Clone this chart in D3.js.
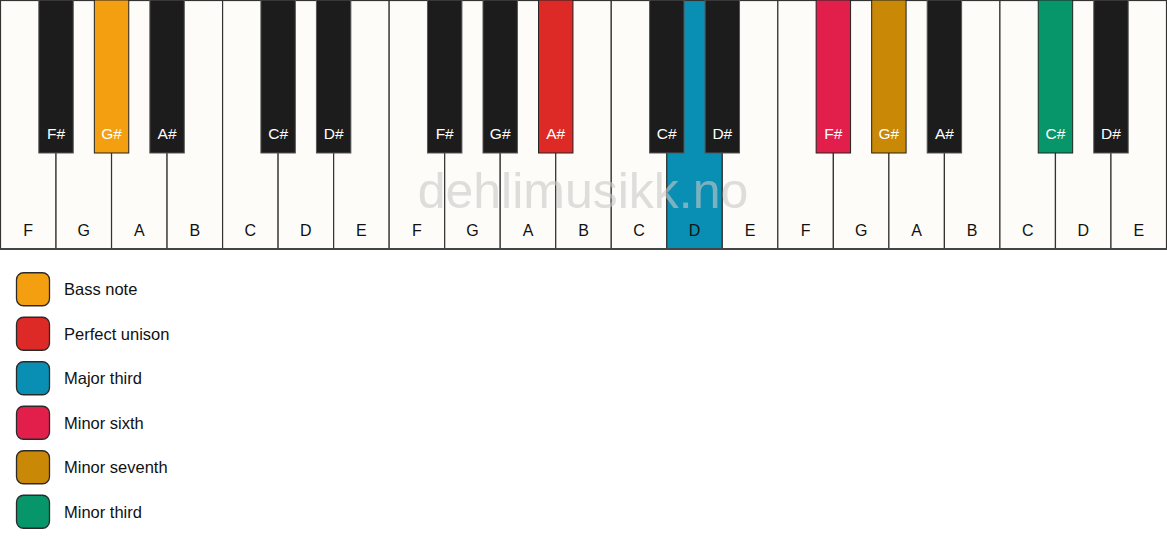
<!DOCTYPE html>
<html>
<head>
<meta charset="utf-8">
<script src="https://cdn.jsdelivr.net/npm/d3@7"></script>
<style>
  body { margin: 0; background: #fff; }
  text { font-family: "Liberation Sans", Arial, sans-serif; }
</style>
</head>
<body>
<div id="chart"></div>
<script>
// white keys, left to right
const whiteNotes = ["F","G","A","B","C","D","E","F","G","A","B","C","D","E","F","G","A","B","C","D","E"];
// highlighted keys: index into the white keys (black keys sit right of that white key)
const highlightKeys = [
  { type: "black", after: 1, label: "Bass note" },
  { type: "black", after: 9, label: "Perfect unison" },
  { type: "white", at: 12, label: "Major third" },
  { type: "black", after: 14, label: "Minor sixth" },
  { type: "black", after: 15, label: "Minor seventh" },
  { type: "black", after: 18, label: "Minor third" }
];
const legendLabels = ["Bass note","Perfect unison","Major third","Minor sixth","Minor seventh","Minor third"];
const legendColors = ["#f49f0f","#dd2a26","#0a8fb4","#e21f4b","#c98805","#07956a"];

const width = 1167, height = 550;
const keyH = 249, blackH = 153;

const svg = d3.select("#chart").append("svg")
  .attr("width", width)
  .attr("height", height);

const x = d3.scaleBand()
  .domain(d3.range(whiteNotes.length))
  .range([0.5, 1166.5])
  .padding(0);

const bw = x.bandwidth();
const blackW = bw * 0.62;

const colorFor = {};
highlightKeys.forEach((h, i) => {
  colorFor[h.type + (h.type === "white" ? h.at : h.after)] = legendColors[i];
});

// white keys
const wk = svg.append("g");
wk.selectAll("rect")
  .data(whiteNotes)
  .join("rect")
  .attr("x", (d, i) => x(i))
  .attr("y", 0.5)
  .attr("width", bw)
  .attr("height", keyH - 0.5)
  .attr("fill", (d, i) => colorFor["white" + i] || "#fdfcf9")
  .attr("stroke", "#333")
  .attr("stroke-width", 1.2);

wk.selectAll("text")
  .data(whiteNotes)
  .join("text")
  .attr("x", (d, i) => x(i) + bw / 2)
  .attr("y", 236)
  .attr("text-anchor", "middle")
  .attr("font-size", 16)
  .attr("fill", "#111")
  .text(d => d);

// bottom edge
svg.append("line")
  .attr("x1", 0).attr("x2", width)
  .attr("y1", keyH).attr("y2", keyH)
  .attr("stroke", "#444")
  .attr("stroke-width", 2);

// watermark
svg.append("text")
  .attr("x", 583)
  .attr("y", 208)
  .attr("text-anchor", "middle")
  .attr("font-size", 50)
  .attr("fill", "#c8c8c8")
  .attr("fill-opacity", 0.6)
  .text("dehlimusikk.no");

// black keys
const blackKeys = [];
whiteNotes.forEach((n, i) => {
  if (i < whiteNotes.length - 1 && n !== "B" && n !== "E") {
    blackKeys.push({ after: i, name: n + "#" });
  }
});

const bk = svg.append("g");
bk.selectAll("rect")
  .data(blackKeys)
  .join("rect")
  .attr("x", d => x(d.after) + bw - blackW / 2)
  .attr("y", 0)
  .attr("width", blackW)
  .attr("height", blackH)
  .attr("fill", d => colorFor["black" + d.after] || "#1c1c1c")
  .attr("stroke", d => colorFor["black" + d.after] ? "#222" : "#555")
  .attr("stroke-width", 1);

bk.selectAll("text")
  .data(blackKeys)
  .join("text")
  .attr("x", d => x(d.after) + bw)
  .attr("y", 138.5)
  .attr("text-anchor", "middle")
  .attr("font-size", 15.5)
  .attr("fill", "#fff")
  .text(d => d.name);

// legend
const ly = d3.scaleBand()
  .domain(d3.range(legendLabels.length))
  .range([267, 534]);

const lg = svg.append("g")
  .selectAll("g")
  .data(legendLabels)
  .join("g")
  .attr("transform", (d, i) => `translate(0, ${ly(i) + ly.bandwidth() / 2})`);

lg.append("rect")
  .attr("x", 16.5)
  .attr("y", -16.5)
  .attr("width", 33)
  .attr("height", 33)
  .attr("rx", 7)
  .attr("fill", (d, i) => legendColors[i])
  .attr("stroke", "#2a2a2a")
  .attr("stroke-width", 1.3);

lg.append("text")
  .attr("x", 64)
  .attr("y", 6)
  .attr("font-size", 16.5)
  .attr("fill", "#111")
  .text(d => d);
</script>
</body>
</html>
